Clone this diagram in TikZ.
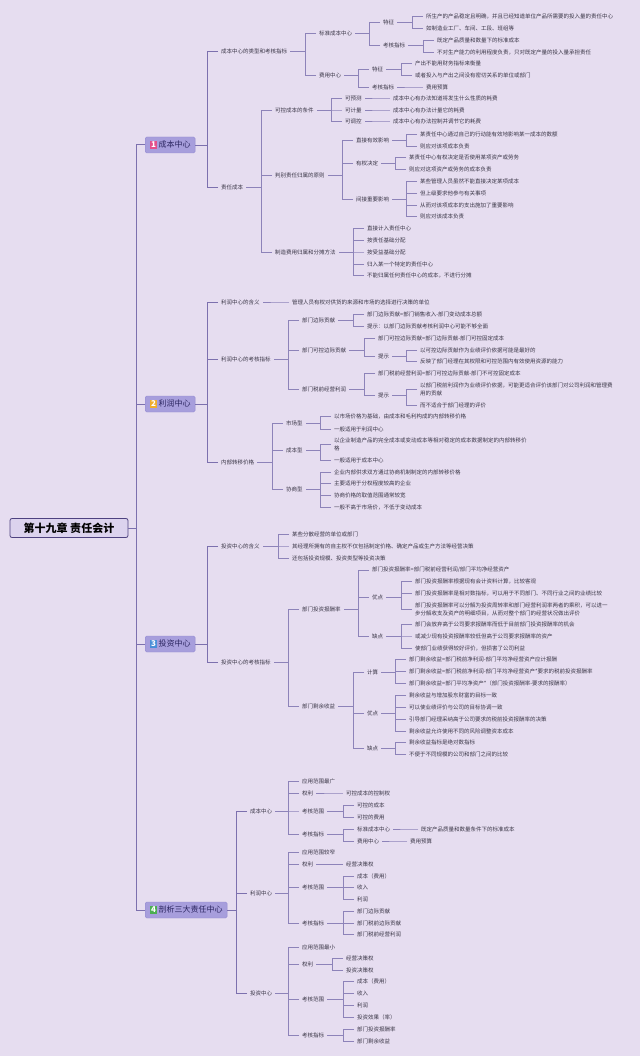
\documentclass[tikz,border=0pt]{standalone}
\usepackage{fontspec}
\setmainfont{Noto Sans CJK SC}
\definecolor{bg}{HTML}{E6DDF0}
\definecolor{txt}{HTML}{3A3646}
\definecolor{ln}{HTML}{8D83B9}
\definecolor{lnd}{HTML}{7C70AE}
\definecolor{mainfill}{HTML}{A79EDC}
\definecolor{mainline}{HTML}{9289CF}
\definecolor{maintxt}{HTML}{2B2560}
\definecolor{rootfill}{HTML}{DCD3EE}
\definecolor{rootline}{HTML}{4E4280}
\definecolor{b1}{HTML}{E2508C}
\definecolor{b2}{HTML}{EFAE2E}
\definecolor{b3}{HTML}{4A8FD8}
\definecolor{b4}{HTML}{4CAE52}
\newcommand\badge[2]{{\fboxsep=1.3pt\colorbox{#1}{\makebox[5pt]{\textcolor{white}{\bfseries #2}}}}}

\begin{document}
\begin{tikzpicture}[x=1pt,y=-1pt,
 t/.style={anchor=west,inner xsep=3pt,inner ysep=1pt,xshift=-3pt,font=\fontsize{5.5}{8}\selectfont,text=txt,align=left},
 mainbox/.style={anchor=west,fill=mainfill,draw=mainline,line width=.4pt,rounded corners=1.5pt,minimum height=16pt,inner xsep=4.5pt,font=\fontsize{8}{9}\selectfont,text=maintxt},
 rootbox/.style={draw=rootline,fill=rootfill,line width=.8pt,rounded corners=2pt,minimum width=118pt,minimum height=19pt,font=\bfseries\fontsize{11}{13}\selectfont,text=black},
 link/.style={draw=ln,line width=.55pt}]
\fill[bg] (0,0) rectangle (640,1056);
\useasboundingbox (0,0) rectangle (640,1056);

% root and the four chapters
\node[rootbox] (root) at (69,528) {第十九章 责任会计};
\node[mainbox] (m1) at (145,145) {\badge{b1}{1}\,成本中心};
\node[mainbox] (m2) at (145,404) {\badge{b2}{2}\,利润中心};
\node[mainbox] (m3) at (145,644) {\badge{b3}{3}\,投资中心};
\node[mainbox] (m4) at (145,910) {\badge{b4}{4}\,剖析三大责任中心};

% 1 成本中心
\node[t] (c1) at (221,51) {成本中心的类型和考核指标};
\node[t] (c11) at (319,33) {标准成本中心};
\node[t] (c111) at (383,22) {特征};
\node[t] (c1111) at (426,16) {所生产的产品稳定且明确，并且已经知道单位产品所需要的投入量的责任中心};
\node[t] (c1112) at (426,28) {如制造业工厂、车间、工段、班组等};
\node[t] (c112) at (383,45) {考核指标};
\node[t] (c1121) at (437,40) {既定产品质量和数量下的标准成本};
\node[t] (c1122) at (437,52) {不对生产能力的利用程度负责，只对既定产量的投入量承担责任};
\node[t] (c12) at (319,75) {费用中心};
\node[t] (c121) at (372,69) {特征};
\node[t] (c1211) at (415,63) {产出不能用财务指标来衡量};
\node[t] (c1212) at (415,75) {或者投入与产出之间没有密切关系的单位或部门};
\node[t] (c122) at (372,87) {考核指标};
\node[t] (c1221) at (426,87) {费用预算};
\node[t] (c2) at (221,187) {责任成本};
\node[t] (c21) at (275,110) {可控成本的条件};
\node[t] (c211) at (345,98) {可预测};
\node[t] (c212) at (345,110) {可计量};
\node[t] (c213) at (345,121) {可调控};
\node[t] (c2111) at (393,98) {成本中心有办法知道将发生什么性质的耗费};
\node[t] (c2121) at (393,110) {成本中心有办法计量它的耗费};
\node[t] (c2131) at (393,121) {成本中心有办法控制并调节它的耗费};
\node[t] (c22) at (275,175) {判别责任归属的原则};
\node[t] (c221) at (356,140) {直接有效影响};
\node[t] (c2211) at (420,134) {某责任中心通过自己的行动能有效地影响某一成本的数额};
\node[t] (c2212) at (420,146) {则应对该项成本负责};
\node[t] (c222) at (356,163) {有权决定};
\node[t] (c2221) at (409,157) {某责任中心有权决定是否使用某项资产或劳务};
\node[t] (c2222) at (409,169) {则应对这项资产或劳务的成本负责};
\node[t] (c223) at (356,199) {间接重要影响};
\node[t] (c2231) at (420,181) {某些管理人员虽然不能直接决定某项成本};
\node[t] (c2232) at (420,193) {但上级要求他参与有关事项};
\node[t] (c2233) at (420,205) {从而对该项成本的支出施加了重要影响};
\node[t] (c2234) at (420,216) {则应对该成本负责};
\node[t] (c23) at (275,252) {制造费用归属和分摊方法};
\node[t] (c231) at (367,228) {直接计入责任中心};
\node[t] (c232) at (367,240) {按责任基础分配};
\node[t] (c233) at (367,252) {按受益基础分配};
\node[t] (c234) at (367,264) {归入某一个特定的责任中心};
\node[t] (c235) at (367,275) {不能归属任何责任中心的成本，不进行分摊};

% 2 利润中心
\node[t] (p1) at (221,302) {利润中心的含义};
\node[t] (p11) at (292,302) {管理人员有权对供货的来源和市场的选择进行决策的单位};
\node[t] (p2) at (221,359) {利润中心的考核指标};
\node[t] (p21) at (302,320) {部门边际贡献};
\node[t] (p211) at (367,314) {部门边际贡献=部门销售收入-部门变动成本总额};
\node[t] (p212) at (367,326) {提示：以部门边际贡献考核利润中心可能不够全面};
\node[t] (p22) at (302,350) {部门可控边际贡献};
\node[t] (p221) at (378,338) {部门可控边际贡献=部门边际贡献-部门可控固定成本};
\node[t] (p222) at (378,356) {提示};
\node[t] (p2221) at (420,350) {以可控边际贡献作为业绩评价依据可能是最好的};
\node[t] (p2222) at (420,361) {反映了部门经理在其权限和可控范围内有效使用资源的能力};
\node[t] (p23) at (302,389) {部门税前经营利润};
\node[t] (p231) at (378,373) {部门税前经营利润=部门可控边际贡献-部门不可控固定成本};
\node[t] (p232) at (378,395) {提示};
\node[t] (p2321) at (420,389) {以部门税前利润作为业绩评价依据，可能更适合评价该部门对公司利润和管理费\\用的贡献};
\node[t] (p2322) at (420,405) {而不适合于部门经理的评价};
\node[t] (p3) at (221,462) {内部转移价格};
\node[t] (p31) at (286,423) {市场型};
\node[t] (p311) at (334,416) {以市场价格为基础，由成本和毛利构成的内部转移价格};
\node[t] (p312) at (334,429) {一般适用于利润中心};
\node[t] (p32) at (286,450) {成本型};
\node[t] (p321) at (334,444) {以企业制造产品的完全成本或变动成本等相对稳定的成本数据制定的内部转移价\\格};
\node[t] (p322) at (334,460) {一般适用于成本中心};
\node[t] (p33) at (286,489) {协商型};
\node[t] (p331) at (334,472) {企业内部供求双方通过协商机制制定的内部转移价格};
\node[t] (p332) at (334,483) {主要适用于分权程度较高的企业};
\node[t] (p333) at (334,495) {协商价格的取值范围通常较宽};
\node[t] (p334) at (334,507) {一般不高于市场价，不低于变动成本};

% 3 投资中心
\node[t] (i1) at (221,546) {投资中心的含义};
\node[t] (i11) at (292,534) {某些分散经营的单位或部门};
\node[t] (i12) at (292,546) {其经理所拥有的自主权不仅包括制定价格、确定产品或生产方法等经营决策};
\node[t] (i13) at (292,558) {还包括投资规模、投资类型等投资决策};
\node[t] (i2) at (221,662) {投资中心的考核指标};
\node[t] (i21) at (302,609) {部门投资报酬率};
\node[t] (i211) at (372,570) {部门投资报酬率=部门税前经营利润/部门平均净经营资产};
\node[t] (i212) at (372,597) {优点};
\node[t] (i2121) at (415,581) {部门投资报酬率根据现有会计资料计算，比较客观};
\node[t] (i2122) at (415,593) {部门投资报酬率是相对数指标，可以用于不同部门、不同行业之间的业绩比较};
\node[t] (i2123) at (415,609) {部门投资报酬率可以分解为投资周转率和部门经营利润率两者的乘积，可以进一\\步分解收支及资产的明细项目，从而对整个部门的经营状况做出评价};
\node[t] (i213) at (372,636) {缺点};
\node[t] (i2131) at (415,624) {部门会放弃高于公司要求报酬率而低于目前部门投资报酬率的机会};
\node[t] (i2132) at (415,636) {或减少现有投资报酬率较低但高于公司要求报酬率的资产};
\node[t] (i2133) at (415,648) {使部门业绩获得较好评价，但损害了公司利益};
\node[t] (i22) at (302,706) {部门剩余收益};
\node[t] (i221) at (367,672) {计算};
\node[t] (i2211) at (409,659) {部门剩余收益=部门税前净利润-部门平均净经营资产应计报酬};
\node[t] (i2212) at (409,671) {部门剩余收益=部门税前净利润-部门平均净经营资产*要求的税前投资报酬率};
\node[t] (i2213) at (409,683) {部门剩余收益=部门平均净资产*（部门投资报酬率-要求的报酬率）};
\node[t] (i222) at (367,713) {优点};
\node[t] (i2221) at (409,695) {剩余收益与增加股东财富的目标一致};
\node[t] (i2222) at (409,707) {可以使业绩评价与公司的目标协调一致};
\node[t] (i2223) at (409,719) {引导部门经理采纳高于公司要求的税前投资报酬率的决策};
\node[t] (i2224) at (409,731) {剩余收益允许使用不同的风险调整资本成本};
\node[t] (i223) at (367,748) {缺点};
\node[t] (i2231) at (409,742) {剩余收益指标是绝对数指标};
\node[t] (i2232) at (409,754) {不便于不同规模的公司和部门之间的比较};

% 4 剖析三大责任中心
\node[t] (a1) at (250,811) {成本中心};
\node[t] (a11) at (302,781) {应用范围最广};
\node[t] (a12) at (302,793) {权利};
\node[t] (a121) at (346,793) {可控成本的控制权};
\node[t] (a13) at (302,811) {考核范围};
\node[t] (a131) at (357,805) {可控的成本};
\node[t] (a132) at (357,817) {可控的费用};
\node[t] (a14) at (302,834) {考核指标};
\node[t] (a141) at (357,829) {标准成本中心};
\node[t] (a1411) at (421,829) {既定产品质量和数量条件下的标准成本};
\node[t] (a142) at (357,841) {费用中心};
\node[t] (a1421) at (410,841) {费用预算};
\node[t] (a2) at (250,893) {利润中心};
\node[t] (a21) at (302,852) {应用范围较窄};
\node[t] (a22) at (302,864) {权利};
\node[t] (a221) at (346,864) {经营决策权};
\node[t] (a23) at (302,887) {考核范围};
\node[t] (a231) at (357,876) {成本（费用）};
\node[t] (a232) at (357,887) {收入};
\node[t] (a233) at (357,899) {利润};
\node[t] (a24) at (302,923) {考核指标};
\node[t] (a241) at (357,911) {部门边际贡献};
\node[t] (a242) at (357,923) {部门税前边际贡献};
\node[t] (a243) at (357,934) {部门税前经营利润};
\node[t] (a3) at (250,993) {投资中心};
\node[t] (a31) at (302,947) {应用范围最小};
\node[t] (a32) at (302,964) {权利};
\node[t] (a321) at (346,958) {经营决策权};
\node[t] (a322) at (346,970) {投资决策权};
\node[t] (a33) at (302,999) {考核范围};
\node[t] (a331) at (357,981) {成本（费用）};
\node[t] (a332) at (357,993) {收入};
\node[t] (a333) at (357,1005) {利润};
\node[t] (a334) at (357,1017) {投资效果（率）};
\node[t] (a34) at (302,1035) {考核指标};
\node[t] (a341) at (357,1029) {部门投资报酬率};
\node[t] (a342) at (357,1041) {部门剩余收益};

% connectors
\foreach \c in {m1,m2,m3,m4}{\draw[link,draw=lnd,line width=1pt] (\c.west) -- ++(-9,0) |- (root.east);}
\foreach \p/\cs in {m1/{c1,c2},m2/{p1,p2,p3},m3/{i1,i2},m4/{a1,a2,a3}}{\foreach \c in \cs {\draw[link,draw=lnd,line width=.8pt] (\c.west) -- ++(-11,0) |- (\p.east);}}
\foreach \p/\cs in {c1/{c11,c12}, c11/{c111,c112}, c111/{c1111,c1112}, c112/{c1121,c1122}, c12/{c121,c122}, c121/{c1211,c1212}, c122/{c1221},
 c2/{c21,c22,c23}, c21/{c211,c212,c213}, c211/{c2111}, c212/{c2121}, c213/{c2131}, c22/{c221,c222,c223}, c221/{c2211,c2212}, c222/{c2221,c2222}, c223/{c2231,c2232,c2233,c2234}, c23/{c231,c232,c233,c234,c235},
 p1/{p11}, p2/{p21,p22,p23}, p21/{p211,p212}, p22/{p221,p222}, p222/{p2221,p2222}, p23/{p231,p232}, p232/{p2321,p2322}, p3/{p31,p32,p33}, p31/{p311,p312}, p32/{p321,p322}, p33/{p331,p332,p333,p334},
 i1/{i11,i12,i13}, i2/{i21,i22}, i21/{i211,i212,i213}, i212/{i2121,i2122,i2123}, i213/{i2131,i2132,i2133}, i22/{i221,i222,i223}, i221/{i2211,i2212,i2213}, i222/{i2221,i2222,i2223,i2224}, i223/{i2231,i2232},
 a1/{a11,a12,a13,a14}, a12/{a121}, a13/{a131,a132}, a14/{a141,a142}, a141/{a1411}, a142/{a1421}, a2/{a21,a22,a23,a24}, a22/{a221}, a23/{a231,a232,a233}, a24/{a241,a242,a243},
 a3/{a31,a32,a33,a34}, a32/{a321,a322}, a33/{a331,a332,a333,a334}, a34/{a341,a342}}{\foreach \c in \cs {\draw[link] (\c.west) -- ++(-11,0) |- (\p.east);}}
\end{tikzpicture}
\end{document}
